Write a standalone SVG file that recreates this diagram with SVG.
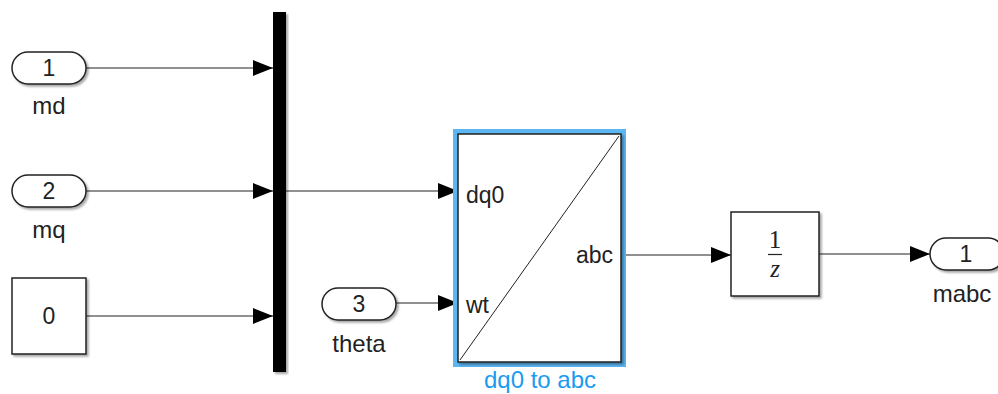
<svg xmlns="http://www.w3.org/2000/svg" width="998" height="394" viewBox="0 0 998 394">
<defs>
<marker id="arr" viewBox="0 0 20 16" refX="20" refY="8" markerWidth="20" markerHeight="16" markerUnits="userSpaceOnUse" orient="auto">
<path d="M0,0 L20,8 L0,16 z" fill="#000"/>
</marker>
<filter id="sh" x="-10%" y="-10%" width="130%" height="130%">
<feGaussianBlur in="SourceAlpha" stdDeviation="1"/>
<feOffset dx="2" dy="2" result="b"/>
<feComponentTransfer><feFuncA type="linear" slope="0.35"/></feComponentTransfer>
<feMerge><feMergeNode/><feMergeNode in="SourceGraphic"/></feMerge>
</filter>
</defs>
<style>
.blk{fill:#fff;stroke:#222;stroke-width:1.5;filter:url(#sh)}
.port{fill:#fff;stroke:#222;stroke-width:1.5;filter:url(#sh)}
.t{font-family:"Liberation Sans",Arial,sans-serif;font-size:23px;fill:#222}
.lb{font-size:24px}
.c{text-anchor:middle}
.wire{fill:none;stroke:#222;stroke-width:1.2}
.wa{marker-end:url(#arr)}
.serif{font-family:"Liberation Serif","Times New Roman",serif;font-size:25px;fill:#222;text-anchor:middle}
</style>
<g id="connectors">
<path class="wire wa" d="M86,68 H273"/>
<path class="wire wa" d="M86,191 H273"/>
<path class="wire wa" d="M86,316 H273"/>
<path class="wire wa" d="M286,191 H458"/>
<path class="wire wa" d="M396,303 H458"/>
<path class="wire wa" d="M621,255 H731"/>
<path class="wire wa" d="M819,254 H930"/>
</g>
<g id="in_md">
<rect class="port" x="12" y="52" width="74" height="32" rx="16"/>
<text class="t c" x="49" y="76">1</text>
<text class="t lb c" x="49" y="114">md</text>
</g>
<g id="in_mq">
<rect class="port" x="12" y="175" width="74" height="32" rx="16"/>
<text class="t c" x="49" y="199">2</text>
<text class="t lb c" x="49" y="238">mq</text>
</g>
<g id="const0">
<rect class="blk" x="12" y="278" width="74" height="76"/>
<text class="t c" x="49" y="324">0</text>
</g>
<g id="mux">
<rect x="273" y="12" width="13" height="360" fill="#000" filter="url(#sh)"/>
</g>
<g id="in_theta">
<rect class="port" x="322" y="288" width="74" height="32" rx="16"/>
<text class="t c" x="359" y="312">3</text>
<text class="t lb c" x="359" y="352">theta</text>
</g>
<g id="dq0_to_abc">
<rect x="455.5" y="131.5" width="168" height="233" fill="none" stroke="#5cb6f2" stroke-width="5"/>
<rect class="blk" x="458" y="134" width="163" height="228"/>
<line x1="460" y1="360" x2="619" y2="136" stroke="#222" stroke-width="1"/>
<text class="t" x="466" y="203">dq0</text>
<text class="t" x="466" y="313">wt</text>
<text class="t" x="613" y="263" text-anchor="end">abc</text>
<text class="t lb c" x="540" y="388" style="fill:#1a9bf0">dq0 to abc</text>
</g>
<g id="unit_delay">
<rect class="blk" x="731" y="212" width="88" height="84"/>
<text class="serif" x="775" y="248">1</text>
<line x1="768" y1="254.5" x2="782" y2="254.5" stroke="#222" stroke-width="1.2"/>
<text class="serif" x="775" y="277" font-style="italic">z</text>
</g>
<g id="out_mabc">
<rect class="port" x="930" y="238" width="74" height="32" rx="16"/>
<text class="t c" x="966" y="262">1</text>
<text class="t lb c" x="962" y="302">mabc</text>
</g>
</svg>
